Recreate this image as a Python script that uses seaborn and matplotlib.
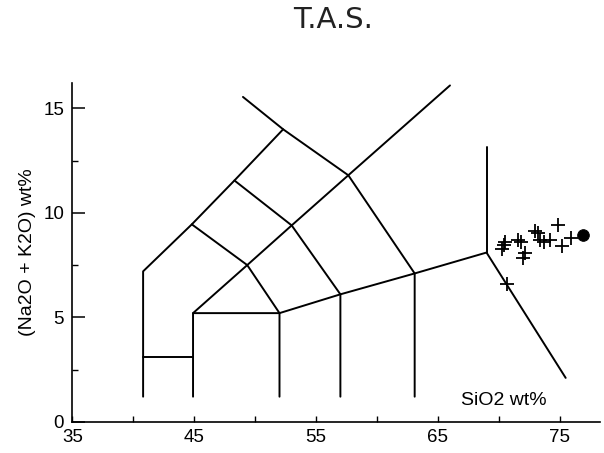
import matplotlib
matplotlib.use("Agg")
import matplotlib.pyplot as plt
import numpy as np
import pandas as pd
import seaborn as sns

# TAS field boundaries (SiO2, Na2O+K2O)
line_a_x = [40.8, 40.8, 44.8, 48.3, 52.3]
line_a_y = [1.2, 7.2, 9.45, 11.55, 14.0]
line_b_x = [49.0, 52.3, 57.65, 63.1, 63.1]
line_b_y = [15.55, 14.0, 11.8, 7.1, 1.2]
line_c_x = [44.9, 44.9, 49.35, 53.0, 57.65, 66.0]
line_c_y = [1.2, 5.2, 7.5, 9.4, 11.8, 16.1]
line_d_x = [44.8, 49.35, 52.0, 52.0]
line_d_y = [9.45, 7.5, 5.2, 1.2]
line_e_x = [48.3, 53.0, 57.0, 57.0]
line_e_y = [11.55, 9.4, 6.1, 1.2]
line_f_x = [44.9, 52.0, 57.0, 63.1, 69.0, 75.5]
line_f_y = [5.2, 5.2, 6.1, 7.1, 8.1, 2.1]
line_g_x = [69.0, 69.0]
line_g_y = [8.1, 13.15]
line_h_x = [40.8, 44.9]
line_h_y = [3.1, 3.1]

boundaries = {
    "a": (line_a_x, line_a_y),
    "b": (line_b_x, line_b_y),
    "c": (line_c_x, line_c_y),
    "d": (line_d_x, line_d_y),
    "e": (line_e_x, line_e_y),
    "f": (line_f_x, line_f_y),
    "g": (line_g_x, line_g_y),
    "h": (line_h_x, line_h_y),
}

# samples
sample_sio2 = [70.3, 70.4, 70.5, 71.6, 71.8, 72.0, 72.2, 73.0, 73.2,
               73.4, 73.7, 74.2, 74.9, 75.2, 75.9, 70.7]
sample_alk = [8.25, 8.45, 8.6, 8.7, 8.6, 7.85, 8.1, 9.15, 9.05,
              8.7, 8.6, 8.7, 9.4, 8.4, 8.8, 6.6]
dot_sio2 = [76.9]
dot_alk = [8.92]

rows = []
for name, (xs, ys) in boundaries.items():
    for i, (x, y) in enumerate(zip(xs, ys)):
        rows.append({"seg": name, "order": i, "x": x, "y": y})
lines_df = pd.DataFrame(rows)
samples_df = pd.DataFrame({"x": sample_sio2, "y": sample_alk})
dot_df = pd.DataFrame({"x": dot_sio2, "y": dot_alk})

sns.set_theme(style="ticks")
plt.rcParams["font.family"] = ["Liberation Sans", "DejaVu Sans"]

fig = plt.figure(figsize=(6.04, 4.53), dpi=100)
ax = fig.add_axes([0.12, 0.069, 0.873, 0.747])

sns.lineplot(data=lines_df, x="x", y="y", units="seg", estimator=None,
             sort=False, color="black", linewidth=1.4, ax=ax)
sns.scatterplot(data=samples_df, x="x", y="y", marker="+", s=110,
                color="black", linewidth=1.3, ax=ax)
sns.scatterplot(data=dot_df, x="x", y="y", marker="o", s=70,
                color="black", edgecolor="black", ax=ax)

ax.set_xlim(35, 78.3)
ax.set_ylim(0, 16.2)
sns.despine(ax=ax)
for side in ["left", "bottom"]:
    ax.spines[side].set_color("black")
    ax.spines[side].set_linewidth(1.2)

ax.set_xticks([35, 45, 55, 65, 75])
ax.set_xticks([40, 50, 60, 70], minor=True)
ax.set_yticks([0, 5, 10, 15])
ax.set_yticks([2.5, 7.5, 12.5], minor=True)
ax.tick_params(axis="both", which="both", direction="in", colors="black",
               labelsize=13.5)
ax.tick_params(axis="y", which="major", length=9, width=1.1, pad=6)
ax.tick_params(axis="y", which="minor", length=4, width=1)
ax.tick_params(axis="x", which="both", length=4, width=1, pad=5)

ax.set_xlabel("")
ax.set_ylabel("(Na2O + K2O) wt%", fontsize=14, color="black")
ax.yaxis.set_label_coords(-0.07, 0.5)

ax.text(70.45, 1.0, "SiO2 wt%", fontsize=14, ha="center", va="center",
        color="black")
fig.text(0.551, 0.955, "T.A.S.", fontsize=21, ha="center", va="center",
         family="DejaVu Sans", color="#222222")

fig.savefig("out.png", dpi=100)
